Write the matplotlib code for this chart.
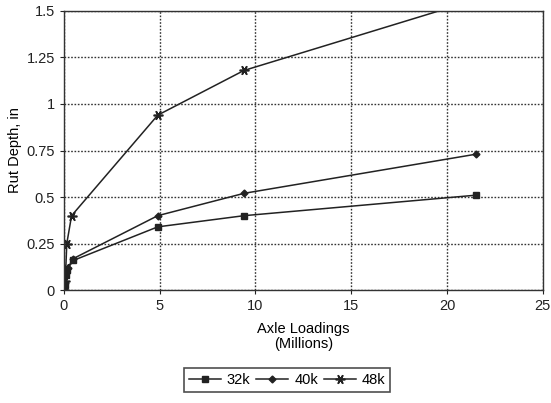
import matplotlib.pyplot as plt

plt.rcParams['font.family'] = ['Liberation Sans', 'DejaVu Sans']

# axle loadings (millions) and rut depth (in) for each load level
x_32k = [0.0, 0.05, 0.1, 0.15, 0.5, 4.9, 9.4, 21.5]
y_32k = [0.0, 0.03, 0.08, 0.11, 0.16, 0.34, 0.40, 0.51]

x_40k = [0.0, 0.05, 0.1, 0.2, 0.5, 4.9, 9.4, 21.5]
y_40k = [0.0, 0.04, 0.09, 0.12, 0.17, 0.40, 0.52, 0.73]

x_48k = [0.0, 0.05, 0.1, 0.15, 0.4, 4.9, 9.4, 21.5]
y_48k = [0.0, 0.05, 0.12, 0.25, 0.40, 0.94, 1.18, 1.56]

xticks = [0, 5, 10, 15, 20, 25]
yticks = [0, 0.25, 0.5, 0.75, 1, 1.25, 1.5]
ytick_labels = ['0', '0.25', '0.5', '0.75', '1', '1.25', '1.5']

fig = plt.figure(figsize=(5.51, 4.03), dpi=100)
ax = fig.add_axes([0.116, 0.280, 0.869, 0.693])

lw = 1.1
ax.plot(x_32k, y_32k, color='#222222', lw=lw, marker='s', ms=5, label='32k')
ax.plot(x_40k, y_40k, color='#222222', lw=lw, marker='D', ms=3.5, label='40k')
ax.plot(x_48k, y_48k, color='#222222', lw=lw, marker=(6, 2, 90), ms=7,
        mew=1.2, label='48k')

ax.set_xlim(0, 25)
ax.set_ylim(0, 1.5)
ax.set_xticks(xticks)
ax.set_yticks(yticks)
ax.set_yticklabels(ytick_labels)
ax.grid(True, linestyle=(0, (1.2, 1.2)), color='#333333', linewidth=1.0)
ax.tick_params(direction='out', length=3, labelsize=10.5, colors='#222222')
for sp in ax.spines.values():
    sp.set_color('#333333')
    sp.set_linewidth(1.0)

ax.set_ylabel('Rut Depth, in', fontsize=10.5, labelpad=3)
ax.set_xlabel('Axle Loadings\n(Millions)', fontsize=10.5, labelpad=6,
              linespacing=1.1)

leg = fig.legend(loc='center', bbox_to_anchor=(0.521, 0.058), ncol=3,
                 fontsize=10.5, frameon=True, fancybox=False,
                 edgecolor='#222222', handlelength=2.2, handletextpad=0.4,
                 columnspacing=0.4, borderpad=0.35)
leg.get_frame().set_linewidth(1.2)

fig.savefig('out.png', dpi=100)
